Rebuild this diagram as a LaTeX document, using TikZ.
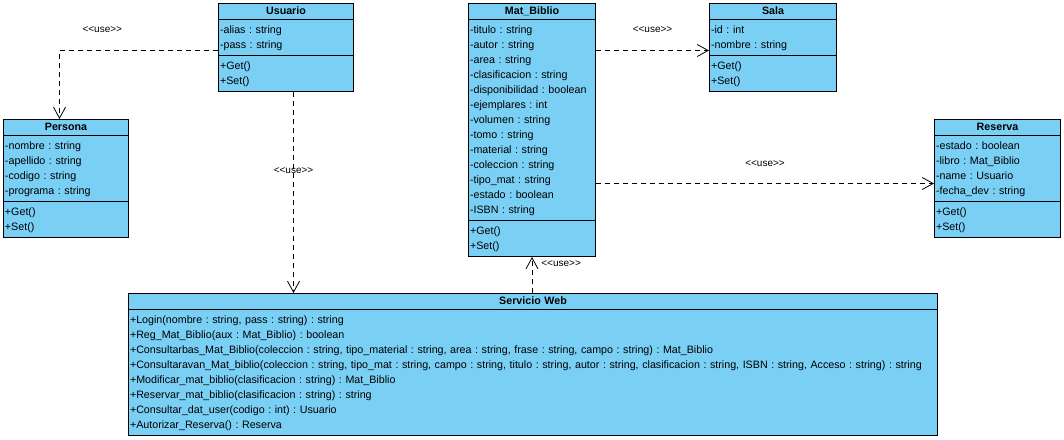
\documentclass[tikz,border=0pt]{standalone}
\usepackage{fontspec}
\newfontfamily\vpletra{Liberation Sans}
\usetikzlibrary{shapes.multipart}
\usetikzlibrary{arrows.meta}
\definecolor{vpazul}{RGB}{122,207,245}
\newcommand{\fila}[1]{\strut#1\par}
\newcommand{\titulo}[1]{{\centering\bfseries\rule[-2pt]{0pt}{10pt}#1\par}}
\frenchspacing

\tikzset{
    clase/.style={draw, fill=vpazul, line width=1pt, rectangle split, rectangle split parts=3,
        anchor=north west, inner xsep=1.5pt, inner ysep=2.5pt, align=left,
        font=\vpletra\fontsize{10.7}{15}\selectfont},
    uso/.style={dash pattern=on 5pt off 4pt, line width=0.8pt, -{Straight Barb[length=11pt,width=12pt]}},
    estereotipo/.style={font=\vpletra\fontsize{10}{12}\selectfont, inner sep=0pt}
}

\begin{document}
\begin{tikzpicture}[x=1pt, y=-1pt]
    \useasboundingbox (0,0) rectangle (1064,439);

    \draw (218,3) node [clase, text width=132pt] (usuario)
        {\titulo{Usuario}
         \nodepart{two}\fila{-alias : string}\fila{-pass : string}
         \nodepart{three}\fila{+Get()}\fila{+Set()}};
    \draw (3,119) node [clase, text width=122pt] (persona)
        {\titulo{Persona}
         \nodepart{two}\fila{-nombre : string}\fila{-apellido : string}\fila{-codigo : string}\fila{-programa : string}
         \nodepart{three}\fila{+Get()}\fila{+Set()}};
    \draw (468,3) node [clase, text width=124pt] (matbiblio)
        {\titulo{Mat\_Biblio}
         \nodepart{two}\fila{-titulo : string}\fila{-autor : string}\fila{-area : string}
            \fila{-clasificacion : string}\fila{-disponibilidad : boolean}\fila{-ejemplares : int}
            \fila{-volumen : string}\fila{-tomo : string}\fila{-material : string}
            \fila{-coleccion : string}\fila{-tipo\_mat : string}\fila{-estado : boolean}\fila{-ISBN : string}
         \nodepart{three}\fila{+Get()}\fila{+Set()}};
    \draw (709,3) node [clase, text width=124pt] (sala)
        {\titulo{Sala}
         \nodepart{two}\fila{-id : int}\fila{-nombre : string}
         \nodepart{three}\fila{+Get()}\fila{+Set()}};
    \draw (934,119) node [clase, text width=123pt] (reserva)
        {\titulo{Reserva}
         \nodepart{two}\fila{-estado : boolean}\fila{-libro : Mat\_Biblio}\fila{-name : Usuario}\fila{-fecha\_dev : string}
         \nodepart{three}\fila{+Get()}\fila{+Set()}};
    \draw (128,293) node [clase, rectangle split parts=2, text width=806pt] (servicio)
        {\titulo{Servicio Web}
         \nodepart{two}\fila{+Login(nombre : string, pass : string) : string}
            \fila{+Reg\_Mat\_Biblio(aux : Mat\_Biblio) : boolean}
            \fila{+Consultarbas\_Mat\_Biblio(coleccion : string, tipo\_material : string, area : string, frase : string, campo : string) : Mat\_Biblio}
            \fila{+Consultaravan\_Mat\_biblio(coleccion : string, tipo\_mat : string, campo : string, titulo : string, autor : string, clasificacion : string, ISBN : string, Acceso : string) : string}
            \fila{+Modificar\_mat\_biblio(clasificacion : string) : Mat\_Biblio}
            \fila{+Reservar\_mat\_biblio(clasificacion : string) : string}
            \fila{+Consultar\_dat\_user(codigo : int) : Usuario}
            \fila{+Autorizar\_Reserva() : Reserva}};

    \coordinate (c1) at ([yshift=-3pt]usuario.west);
    \coordinate (c2) at ([xshift=7.5pt]usuario.south);
    \coordinate (c3) at ([yshift=-3pt]sala.west);
    \coordinate (c4) at ([yshift=-5pt]reserva.west);

    \draw[uso] (c1) -| ([xshift=-6.5pt]persona.north) node[estereotipo, pos=0.365, yshift=21pt] {<<use>>};
    \draw[uso] (c2) -- (c2 |- servicio.north) node[estereotipo, pos=0.39] {<<use>>};
    \draw[uso] (matbiblio.east |- c3) -- (c3) node[estereotipo, midway, yshift=21pt] {<<use>>};
    \draw[uso] (matbiblio.east |- c4) -- (c4) node[estereotipo, midway, yshift=20pt] {<<use>>};
    \draw[uso] (servicio.north -| matbiblio.south) -- (matbiblio.south) node[estereotipo, pos=0.82, anchor=west, xshift=9pt] {<<use>>};
\end{tikzpicture}
\end{document}
